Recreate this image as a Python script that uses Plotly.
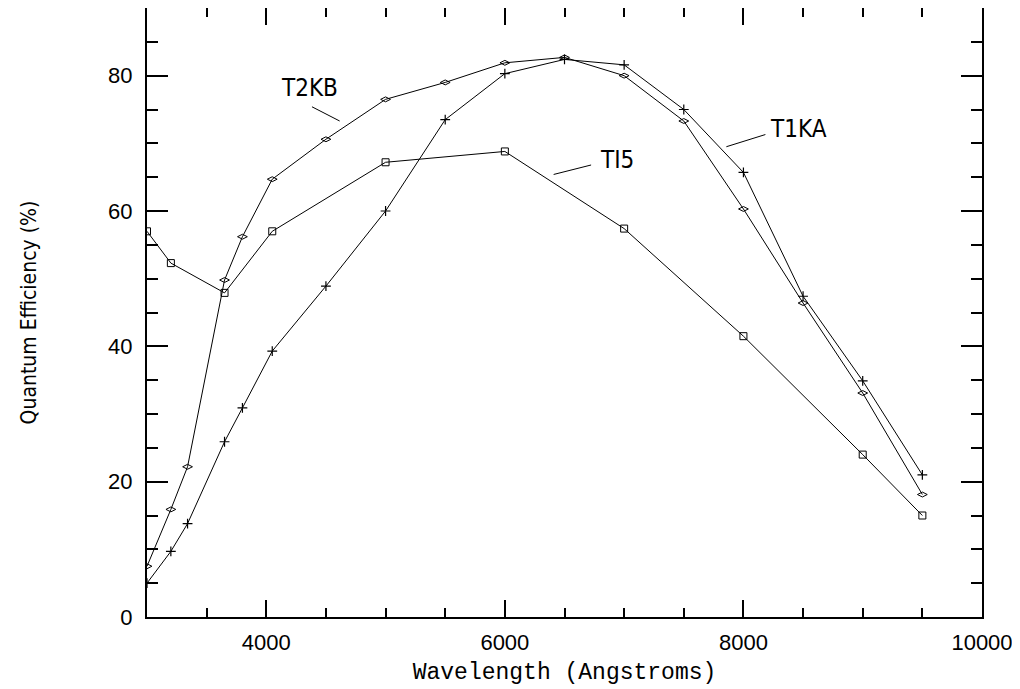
import plotly.graph_objects as go

# Wavelengths (Angstroms)
wl_t1ka = [3000, 3200, 3340, 3650, 3800, 4050, 4500, 5000, 5500, 6000, 6500, 7000, 7500, 8000, 8500, 9000, 9500]
qe_t1ka = [5.0, 9.7, 13.8, 25.9, 30.9, 39.3, 48.9, 60.0, 73.5, 80.3, 82.4, 81.6, 75.0, 65.7, 47.4, 34.9, 21.0]

wl_t2kb = [3000, 3200, 3340, 3650, 3800, 4050, 4500, 5000, 5500, 6000, 6500, 7000, 7500, 8000, 8500, 9000, 9500]
qe_t2kb = [7.5, 15.9, 22.2, 49.8, 56.2, 64.7, 70.6, 76.5, 79.0, 81.9, 82.7, 80.0, 73.3, 60.3, 46.4, 33.1, 18.1]

wl_ti5 = [3000, 3200, 3650, 4050, 5000, 6000, 7000, 8000, 9000, 9500]
qe_ti5 = [57.0, 52.3, 47.9, 57.0, 67.2, 68.8, 57.4, 41.5, 24.0, 15.0]

x_ticks = [4000, 6000, 8000, 10000]
y_ticks = [0, 20, 40, 60, 80]

series_labels = ["T2KB", "TI5", "T1KA"]

fig = go.Figure()

fig.add_trace(go.Scatter(x=wl_ti5, y=qe_ti5, mode="lines+markers", name="TI5",
                         line=dict(color="black", width=1),
                         marker=dict(symbol="square-open", size=7, color="black", line=dict(width=1))))
fig.add_trace(go.Scatter(x=wl_t2kb, y=qe_t2kb, mode="lines+markers", name="T2KB",
                         line=dict(color="black", width=1),
                         marker=dict(symbol="diamond-wide-open", size=7, color="black", line=dict(width=1))))
fig.add_trace(go.Scatter(x=wl_t1ka, y=qe_t1ka, mode="lines+markers", name="T1KA",
                         line=dict(color="black", width=1),
                         marker=dict(symbol="cross-thin-open", size=7, color="black", line=dict(width=1.2))))

narrow = "DejaVu Sans Condensed, Liberation Sans, sans-serif"
ann_font = dict(family=narrow, size=24, color="black")
label_pos = [(4360, 78.2), (6943, 67.6), (8461, 72.1)]
for txt, (ax_, ay_) in zip(series_labels, label_pos):
    fig.add_annotation(x=ax_, y=ay_, text=txt, showarrow=False, font=ann_font,
                       xanchor="center", yanchor="middle")

leaders = [((4383, 75.4), (4615, 73.3)), ((6409, 65.4), (6723, 66.8)), ((7857, 69.5), (8184, 71.3))]
for (x0, y0), (x1, y1) in leaders:
    fig.add_shape(type="line", x0=x0, y0=y0, x1=x1, y1=y1, xref="x", yref="y",
                  line=dict(color="black", width=1))

tick_font = dict(family="Liberation Sans, Arial, sans-serif", size=22, color="black")

fig.update_xaxes(range=[3000, 10000], tickvals=x_ticks, ticktext=[str(v) for v in x_ticks],
                 showline=True, linecolor="black", linewidth=2, mirror="allticks",
                 ticks="inside", ticklen=17, tickwidth=2, tickcolor="black",
                 minor=dict(ticks="inside", dtick=500, tick0=0, ticklen=9, tickwidth=2, tickcolor="black"),
                 showgrid=False, zeroline=False, tickfont=tick_font,
                 ticklabelstandoff=5,
                 title=dict(text="Wavelength (Angstroms)",
                            font=dict(family="Liberation Mono, DejaVu Sans Mono, monospace", size=23, color="black"),
                            standoff=8))
fig.update_yaxes(range=[0, 90], tickvals=y_ticks, ticktext=[str(v) for v in y_ticks],
                 showline=True, linecolor="black", linewidth=2, mirror="allticks",
                 ticks="inside", ticklen=21, tickwidth=2, tickcolor="black",
                 minor=dict(ticks="inside", dtick=5, tick0=0, ticklen=11, tickwidth=2, tickcolor="black"),
                 showgrid=False, zeroline=False, tickfont=tick_font,
                 ticklabelstandoff=8,
                 title=dict(text="Quantum Efficiency (%)",
                            font=dict(family=narrow, size=21, color="black"), standoff=66))

fig.update_layout(width=1012, height=681, showlegend=False,
                  margin=dict(l=139, r=38, t=0, b=72, pad=0, autoexpand=False),
                  plot_bgcolor="white", paper_bgcolor="white")

fig.write_html("out.html")
